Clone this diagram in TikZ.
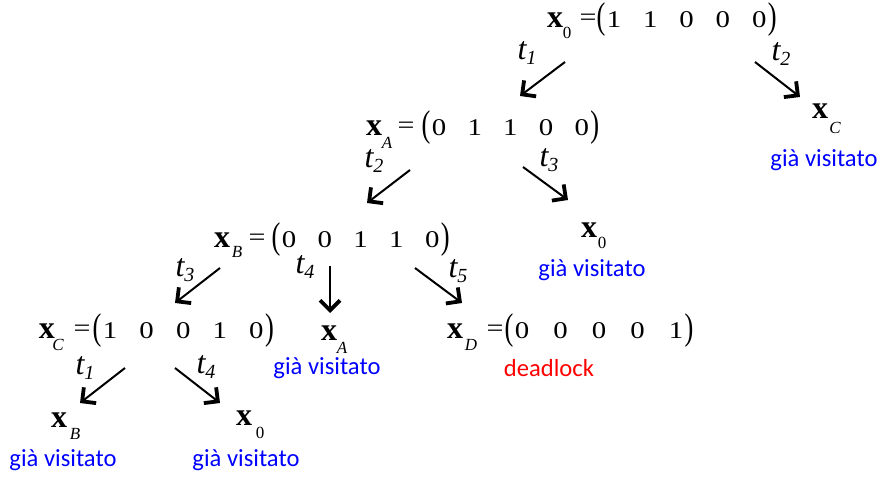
\documentclass[tikz,border=0pt]{standalone}
\usepackage{fontspec}
\usepackage{graphicx}
\setmainfont{Liberation Serif}
\newfontfamily\calfont{Carlito}
\usetikzlibrary{arrows.meta}
\definecolor{visblue}{RGB}{0,0,255}
\definecolor{deadred}{RGB}{255,0,0}
\tikzset{
  every node/.style={inner sep=0pt, outer sep=0pt},
  dig/.style={font=\fontsize{12pt}{12pt}\selectfont},
  eqs/.style={font=\fontsize{12.5pt}{12.5pt}\selectfont},
  par/.style={font=\fontsize{12pt}{12pt}\selectfont},
  xb/.style={font=\fontsize{16pt}{16pt}\selectfont\bfseries},
  xs/.style={font=\fontsize{8.5pt}{8.5pt}\selectfont},
  xsi/.style={font=\fontsize{8.5pt}{8.5pt}\selectfont\itshape},
  tl/.style={font=\fontsize{16pt}{16pt}\selectfont\itshape},
  note/.style={font=\calfont\fontsize{12.3pt}{12.3pt}\selectfont, text=visblue},
  dead/.style={font=\calfont\fontsize{12.3pt}{12.3pt}\selectfont, text=deadred},
  arr/.style={line width=1pt, -{Straight Barb[length=5pt,width=10pt,line width=1.9pt]}}
}
\newcommand\tlab[1]{t\raisebox{-2.5pt}{\fontsize{10pt}{10pt}\selectfont #1}}
\newcommand\hs[1]{\scalebox{1.2}[1]{#1}}
% \vrow{name}{first center x}{y}{pitch}{d1}{d2}{d3}{d4}{d5}
\newcommand\vrow[9]{%
  \node[par] (#1-l) at ({#2-13},#3) {\scalebox{1.1}[1.55]{(}};
  \node[dig] (#1-1) at ({#2},#3) {\hs{#5}};
  \node[dig] (#1-2) at ({#2+#4},#3) {\hs{#6}};
  \node[dig] (#1-3) at ({#2+2*#4},#3) {\hs{#7}};
  \node[dig] (#1-4) at ({#2+3*#4},#3) {\hs{#8}};
  \node[dig] (#1-5) at ({#2+4*#4},#3) {\hs{#9}};
  \node[par] (#1-r) at ({#2+4*#4+13},#3) {\scalebox{1.1}[1.55]{)}};
}
\begin{document}
\begin{tikzpicture}[x=0.5pt,y=-0.5pt]
\useasboundingbox (0,0) rectangle (882,480);

% x0 row
\node[xb] (x0) at (555,20) {x};
\node[xs] (x0s) at (567,33) {0};
\node[eqs] (x0e) at (588,20) {\hs{=}};
\vrow{x0v}{614}{20}{36.3}{1}{1}{0}{0}{0}

% xA row
\node[xb] (xA) at (374,128) {x};
\node[xsi] (xAs) at (387,143) {A};
\node[eqs] (xAe) at (406,128) {\hs{=}};
\vrow{xAv}{439}{128}{35.7}{0}{1}{1}{0}{0}

% xB row
\node[xb] (xB) at (222,240) {x};
\node[xsi] (xBs) at (237,252) {B};
\node[eqs] (xBe) at (257,240) {\hs{=}};
\vrow{xBv}{289}{240}{35.8}{0}{0}{1}{1}{0}

% xC row
\node[xb] (xC) at (47,331) {x};
\node[xsi] (xCs) at (58,345) {C};
\node[eqs] (xCe) at (82,331) {\hs{=}};
\vrow{xCv}{110}{331}{36.6}{1}{0}{0}{1}{0}

% xD row
\node[xb] (xD) at (455,331) {x};
\node[xsi] (xDs) at (471,345) {D};
\node[eqs] (xDe) at (495,331) {\hs{=}};
\vrow{xDv}{522}{331}{38.5}{0}{0}{0}{0}{1}
\node[dead] (dl) at (549,368) {deadlock};

% leaves
\node[xb] (lC) at (820,111) {x};
\node[xsi] (lCs) at (835,128) {C};
\node[note] (lCn) at (824,160) {già visitato};

\node[xb] (l0a) at (589,230) {x};
\node[xs] (l0as) at (602,243) {0};
\node[note] (l0an) at (592,270) {già visitato};

\node[xb] (lA) at (329,333) {x};
\node[xsi] (lAs) at (342,348) {A};
\node[note] (lAn) at (327,368) {già visitato};

\node[xb] (lB) at (59,420) {x};
\node[xsi] (lBs) at (75,434) {B};
\node[note] (lBn) at (63,460) {già visitato};

\node[xb] (l0b) at (244,418) {x};
\node[xs] (l0bs) at (260,433) {0};
\node[note] (l0bn) at (246,460) {già visitato};

% transition labels
\node[tl] (t1a) at (527,53) {\tlab{1}};
\node[tl] (t2a) at (781,54) {\tlab{2}};
\node[tl] (t2b) at (374,161) {\tlab{2}};
\node[tl] (t3a) at (549,160) {\tlab{3}};
\node[tl] (t3b) at (185,270) {\tlab{3}};
\node[tl] (t4a) at (305,267) {\tlab{4}};
\node[tl] (t5a) at (458,271) {\tlab{5}};
\node[tl] (t1b) at (85,368) {\tlab{1}};
\node[tl] (t4b) at (206,367) {\tlab{4}};

% arrow ends
\coordinate (a1s) at (565,62);  \coordinate (a1e) at (520,96);
\coordinate (a2s) at (755,62);  \coordinate (a2e) at (800,97);
\coordinate (a3s) at (410,170); \coordinate (a3e) at (367,203);
\coordinate (a4s) at (523,167); \coordinate (a4e) at (568,200);
\coordinate (a5s) at (220,268); \coordinate (a5e) at (175,303);
\coordinate (a6s) at (330,266); \coordinate (a6e) at (330,313);
\coordinate (a7s) at (415,268); \coordinate (a7e) at (462,303);
\coordinate (a8s) at (125,368); \coordinate (a8e) at (80,403);
\coordinate (a9s) at (175,368); \coordinate (a9e) at (220,403);

\draw[arr] (a1s) -- (a1e);
\draw[arr] (a2s) -- (a2e);
\draw[arr] (a3s) -- (a3e);
\draw[arr] (a4s) -- (a4e);
\draw[arr] (a5s) -- (a5e);
\draw[arr] (a6s) -- (a6e);
\draw[arr] (a7s) -- (a7e);
\draw[arr] (a8s) -- (a8e);
\draw[arr] (a9s) -- (a9e);
\end{tikzpicture}
\end{document}
